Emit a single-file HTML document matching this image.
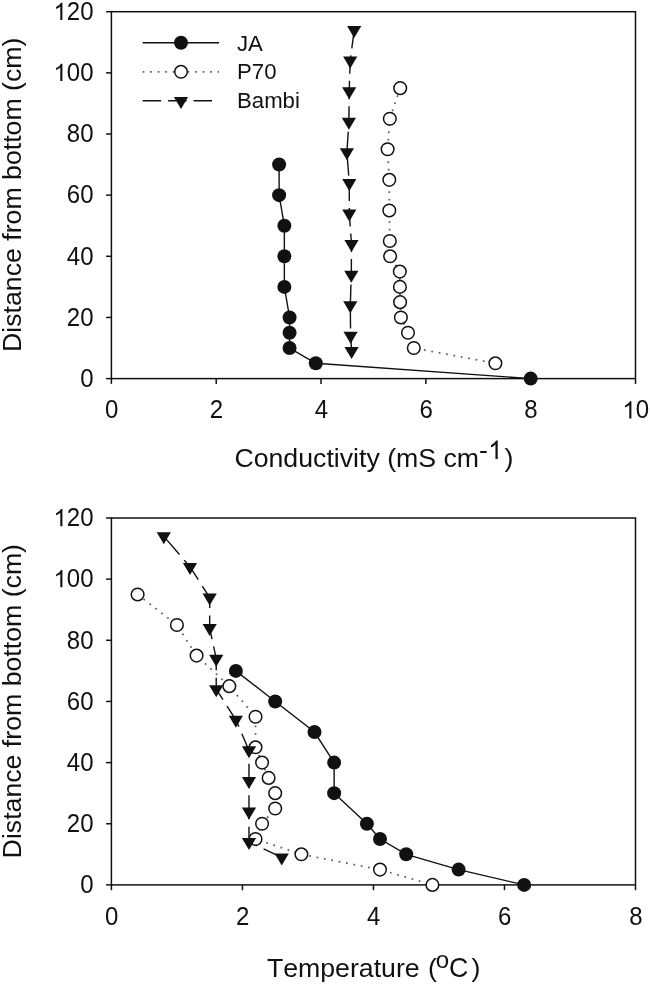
<!DOCTYPE html>
<html><head><meta charset="utf-8"><style>
html,body{margin:0;padding:0;background:#fff;}
body{width:650px;height:984px;overflow:hidden;}
svg{display:block;font-family:"Liberation Sans", sans-serif;font-kerning:none;will-change:transform;}
text{fill:#111;font-kerning:none;}
</style></head><body>
<svg width="650" height="984" viewBox="0 0 650 984">
<rect width="650" height="984" fill="#fff"/>
<rect x="111.4" y="11.7" width="524.1" height="366.9" fill="none" stroke="#111" stroke-width="1.5"/>
<line x1="106.1" y1="378.6" x2="111.4" y2="378.6" stroke="#111" stroke-width="1.5"/>
<text transform="translate(80.15,386.8) scale(1,1.04)" font-size="24">0</text>
<line x1="106.1" y1="317.45" x2="111.4" y2="317.45" stroke="#111" stroke-width="1.5"/>
<text transform="translate(66.8,325.65) scale(1,1.04)" font-size="24">20</text>
<line x1="106.1" y1="256.3" x2="111.4" y2="256.3" stroke="#111" stroke-width="1.5"/>
<text transform="translate(66.8,264.5) scale(1,1.04)" font-size="24">40</text>
<line x1="106.1" y1="195.15" x2="111.4" y2="195.15" stroke="#111" stroke-width="1.5"/>
<text transform="translate(66.8,203.35) scale(1,1.04)" font-size="24">60</text>
<line x1="106.1" y1="134" x2="111.4" y2="134" stroke="#111" stroke-width="1.5"/>
<text transform="translate(66.8,142.2) scale(1,1.04)" font-size="24">80</text>
<line x1="106.1" y1="72.85" x2="111.4" y2="72.85" stroke="#111" stroke-width="1.5"/>
<path transform="translate(53.46,81.05) scale(0.01172,-0.01172)" d="M763,0L583,0L583,1147C540,1106 480,1064 412,1024C343,985 280,954 223,932L223,1106C320,1152 405,1207 478,1272C551,1337 602,1404 632,1472L763,1472Z" fill="#111"/><text transform="translate(66.8,81.05) scale(1,1.04)" font-size="24">00</text>
<line x1="106.1" y1="11.7" x2="111.4" y2="11.7" stroke="#111" stroke-width="1.5"/>
<path transform="translate(53.46,19.9) scale(0.01172,-0.01172)" d="M763,0L583,0L583,1147C540,1106 480,1064 412,1024C343,985 280,954 223,932L223,1106C320,1152 405,1207 478,1272C551,1337 602,1404 632,1472L763,1472Z" fill="#111"/><text transform="translate(66.8,19.9) scale(1,1.04)" font-size="24">20</text>
<line x1="111.4" y1="378.6" x2="111.4" y2="383.9" stroke="#111" stroke-width="1.5"/>
<text transform="translate(105.03,418.4) scale(1,1.04)" font-size="24">0</text>
<line x1="216.22" y1="378.6" x2="216.22" y2="383.9" stroke="#111" stroke-width="1.5"/>
<text transform="translate(209.85,418.4) scale(1,1.04)" font-size="24">2</text>
<line x1="321.04" y1="378.6" x2="321.04" y2="383.9" stroke="#111" stroke-width="1.5"/>
<text transform="translate(314.67,418.4) scale(1,1.04)" font-size="24">4</text>
<line x1="425.86" y1="378.6" x2="425.86" y2="383.9" stroke="#111" stroke-width="1.5"/>
<text transform="translate(419.49,418.4) scale(1,1.04)" font-size="24">6</text>
<line x1="530.68" y1="378.6" x2="530.68" y2="383.9" stroke="#111" stroke-width="1.5"/>
<text transform="translate(524.31,418.4) scale(1,1.04)" font-size="24">8</text>
<line x1="635.5" y1="378.6" x2="635.5" y2="383.9" stroke="#111" stroke-width="1.5"/>
<path transform="translate(622.45,418.4) scale(0.01172,-0.01172)" d="M763,0L583,0L583,1147C540,1106 480,1064 412,1024C343,985 280,954 223,932L223,1106C320,1152 405,1207 478,1272C551,1337 602,1404 632,1472L763,1472Z" fill="#111"/><text transform="translate(635.8,418.4) scale(1,1.04)" font-size="24">0</text>
<polyline points="400.2,88.14 389.8,118.71 387.6,149.29 389.3,179.86 389.3,210.44 389.8,241.01 390.1,256.3 399.8,271.59 399.9,286.88 400.1,302.16 400.9,317.45 408,332.74 413.8,348.03 495.4,363.31" fill="none" stroke="#666" stroke-width="1.8" stroke-dasharray="1.8 5.7" stroke-linecap="butt"/>
<polyline points="354.2,30.04 350.2,60.62 349.2,91.19 348.9,121.77 346.9,152.34 349.3,182.92 349.3,213.5 351.5,244.07 351.3,274.65 350.3,305.22 350.6,335.8 351.6,351.08" fill="none" stroke="#111" stroke-width="1.4" stroke-dasharray="18.5 7"/>
<polyline points="279.11,164.57 279.11,195.15 284.35,225.73 284.35,256.3 284.35,286.88 289.59,317.45 289.59,332.74 289.59,348.03 315.8,363.31 530.68,378.6" fill="none" stroke="#111" stroke-width="1.4"/>
<circle cx="400.2" cy="88.14" r="6.3" fill="#fff" stroke="#111" stroke-width="1.5"/>
<circle cx="389.8" cy="118.71" r="6.3" fill="#fff" stroke="#111" stroke-width="1.5"/>
<circle cx="387.6" cy="149.29" r="6.3" fill="#fff" stroke="#111" stroke-width="1.5"/>
<circle cx="389.3" cy="179.86" r="6.3" fill="#fff" stroke="#111" stroke-width="1.5"/>
<circle cx="389.3" cy="210.44" r="6.3" fill="#fff" stroke="#111" stroke-width="1.5"/>
<circle cx="389.8" cy="241.01" r="6.3" fill="#fff" stroke="#111" stroke-width="1.5"/>
<circle cx="390.1" cy="256.3" r="6.3" fill="#fff" stroke="#111" stroke-width="1.5"/>
<circle cx="399.8" cy="271.59" r="6.3" fill="#fff" stroke="#111" stroke-width="1.5"/>
<circle cx="399.9" cy="286.88" r="6.3" fill="#fff" stroke="#111" stroke-width="1.5"/>
<circle cx="400.1" cy="302.16" r="6.3" fill="#fff" stroke="#111" stroke-width="1.5"/>
<circle cx="400.9" cy="317.45" r="6.3" fill="#fff" stroke="#111" stroke-width="1.5"/>
<circle cx="408" cy="332.74" r="6.3" fill="#fff" stroke="#111" stroke-width="1.5"/>
<circle cx="413.8" cy="348.03" r="6.3" fill="#fff" stroke="#111" stroke-width="1.5"/>
<circle cx="495.4" cy="363.31" r="6.3" fill="#fff" stroke="#111" stroke-width="1.5"/>
<path d="M347.1,26.04L361.3,26.04L354.2,38.04Z" fill="#111"/>
<path d="M343.1,56.62L357.3,56.62L350.2,68.62Z" fill="#111"/>
<path d="M342.1,87.19L356.3,87.19L349.2,99.19Z" fill="#111"/>
<path d="M341.8,117.77L356,117.77L348.9,129.77Z" fill="#111"/>
<path d="M339.8,148.34L354,148.34L346.9,160.34Z" fill="#111"/>
<path d="M342.2,178.92L356.4,178.92L349.3,190.92Z" fill="#111"/>
<path d="M342.2,209.5L356.4,209.5L349.3,221.5Z" fill="#111"/>
<path d="M344.4,240.07L358.6,240.07L351.5,252.07Z" fill="#111"/>
<path d="M344.2,270.65L358.4,270.65L351.3,282.65Z" fill="#111"/>
<path d="M343.2,301.22L357.4,301.22L350.3,313.22Z" fill="#111"/>
<path d="M343.5,331.8L357.7,331.8L350.6,343.8Z" fill="#111"/>
<path d="M344.5,347.08L358.7,347.08L351.6,359.08Z" fill="#111"/>
<circle cx="279.11" cy="164.57" r="7" fill="#111"/>
<circle cx="279.11" cy="195.15" r="7" fill="#111"/>
<circle cx="284.35" cy="225.73" r="7" fill="#111"/>
<circle cx="284.35" cy="256.3" r="7" fill="#111"/>
<circle cx="284.35" cy="286.88" r="7" fill="#111"/>
<circle cx="289.59" cy="317.45" r="7" fill="#111"/>
<circle cx="289.59" cy="332.74" r="7" fill="#111"/>
<circle cx="289.59" cy="348.03" r="7" fill="#111"/>
<circle cx="315.8" cy="363.31" r="7" fill="#111"/>
<circle cx="530.68" cy="378.6" r="7" fill="#111"/>
<text transform="translate(20.9,194.8) rotate(-90) scale(1,1.0)" text-anchor="middle" font-size="26.7">Distance from bottom (cm)</text>
<text transform="translate(234.4,467.3) scale(1,1.0)" font-size="26.7">Conductivity (mS cm</text><text transform="translate(479,458.6) scale(1,1.0)" font-size="26.7">-</text><path transform="translate(488.2,458.9) scale(0.01245,-0.01245)" d="M763,0L583,0L583,1147C540,1106 480,1064 412,1024C343,985 280,954 223,932L223,1106C320,1152 405,1207 478,1272C551,1337 602,1404 632,1472L763,1472Z" fill="#111"/><text transform="translate(504.6,467.3) scale(1,1.0)" font-size="26.7">)</text>
<rect x="111.4" y="518" width="524.1" height="366.9" fill="none" stroke="#111" stroke-width="1.5"/>
<line x1="106.1" y1="884.9" x2="111.4" y2="884.9" stroke="#111" stroke-width="1.5"/>
<text transform="translate(80.15,893.1) scale(1,1.04)" font-size="24">0</text>
<line x1="106.1" y1="823.75" x2="111.4" y2="823.75" stroke="#111" stroke-width="1.5"/>
<text transform="translate(66.8,831.95) scale(1,1.04)" font-size="24">20</text>
<line x1="106.1" y1="762.6" x2="111.4" y2="762.6" stroke="#111" stroke-width="1.5"/>
<text transform="translate(66.8,770.8) scale(1,1.04)" font-size="24">40</text>
<line x1="106.1" y1="701.45" x2="111.4" y2="701.45" stroke="#111" stroke-width="1.5"/>
<text transform="translate(66.8,709.65) scale(1,1.04)" font-size="24">60</text>
<line x1="106.1" y1="640.3" x2="111.4" y2="640.3" stroke="#111" stroke-width="1.5"/>
<text transform="translate(66.8,648.5) scale(1,1.04)" font-size="24">80</text>
<line x1="106.1" y1="579.15" x2="111.4" y2="579.15" stroke="#111" stroke-width="1.5"/>
<path transform="translate(53.46,587.35) scale(0.01172,-0.01172)" d="M763,0L583,0L583,1147C540,1106 480,1064 412,1024C343,985 280,954 223,932L223,1106C320,1152 405,1207 478,1272C551,1337 602,1404 632,1472L763,1472Z" fill="#111"/><text transform="translate(66.8,587.35) scale(1,1.04)" font-size="24">00</text>
<line x1="106.1" y1="518" x2="111.4" y2="518" stroke="#111" stroke-width="1.5"/>
<path transform="translate(53.46,526.2) scale(0.01172,-0.01172)" d="M763,0L583,0L583,1147C540,1106 480,1064 412,1024C343,985 280,954 223,932L223,1106C320,1152 405,1207 478,1272C551,1337 602,1404 632,1472L763,1472Z" fill="#111"/><text transform="translate(66.8,526.2) scale(1,1.04)" font-size="24">20</text>
<line x1="111.4" y1="884.9" x2="111.4" y2="890.2" stroke="#111" stroke-width="1.5"/>
<text transform="translate(105.03,924.7) scale(1,1.04)" font-size="24">0</text>
<line x1="242.43" y1="884.9" x2="242.43" y2="890.2" stroke="#111" stroke-width="1.5"/>
<text transform="translate(236.05,924.7) scale(1,1.04)" font-size="24">2</text>
<line x1="373.45" y1="884.9" x2="373.45" y2="890.2" stroke="#111" stroke-width="1.5"/>
<text transform="translate(367.08,924.7) scale(1,1.04)" font-size="24">4</text>
<line x1="504.48" y1="884.9" x2="504.48" y2="890.2" stroke="#111" stroke-width="1.5"/>
<text transform="translate(498.1,924.7) scale(1,1.04)" font-size="24">6</text>
<line x1="635.5" y1="884.9" x2="635.5" y2="890.2" stroke="#111" stroke-width="1.5"/>
<text transform="translate(629.13,924.7) scale(1,1.04)" font-size="24">8</text>
<polyline points="137.61,594.44 176.91,625.01 196.57,655.59 229.32,686.16 255.53,716.74 255.53,747.31 262.08,762.6 268.63,777.89 275.18,793.17 275.18,808.46 262.08,823.75 255.53,839.04 301.39,854.32 380,869.61 432.41,884.9" fill="none" stroke="#666" stroke-width="1.8" stroke-dasharray="1.8 5.7" stroke-linecap="butt"/>
<polyline points="163.81,536.35 190.01,566.92 209.67,597.5 209.67,628.07 216.22,658.64 216.22,689.22 235.87,719.79 248.98,750.37 248.98,780.94 248.98,811.52 248.98,842.1 281.73,857.38" fill="none" stroke="#111" stroke-width="1.4" stroke-dasharray="24 7.5"/>
<polyline points="235.87,670.88 275.18,701.45 314.49,732.02 334.14,762.6 334.14,793.17 366.9,823.75 380,839.04 406.21,854.32 458.62,869.61 524.13,884.9" fill="none" stroke="#111" stroke-width="1.4"/>
<circle cx="137.61" cy="594.44" r="6.3" fill="#fff" stroke="#111" stroke-width="1.5"/>
<circle cx="176.91" cy="625.01" r="6.3" fill="#fff" stroke="#111" stroke-width="1.5"/>
<circle cx="196.57" cy="655.59" r="6.3" fill="#fff" stroke="#111" stroke-width="1.5"/>
<circle cx="229.32" cy="686.16" r="6.3" fill="#fff" stroke="#111" stroke-width="1.5"/>
<circle cx="255.53" cy="716.74" r="6.3" fill="#fff" stroke="#111" stroke-width="1.5"/>
<circle cx="255.53" cy="747.31" r="6.3" fill="#fff" stroke="#111" stroke-width="1.5"/>
<circle cx="262.08" cy="762.6" r="6.3" fill="#fff" stroke="#111" stroke-width="1.5"/>
<circle cx="268.63" cy="777.89" r="6.3" fill="#fff" stroke="#111" stroke-width="1.5"/>
<circle cx="275.18" cy="793.17" r="6.3" fill="#fff" stroke="#111" stroke-width="1.5"/>
<circle cx="275.18" cy="808.46" r="6.3" fill="#fff" stroke="#111" stroke-width="1.5"/>
<circle cx="262.08" cy="823.75" r="6.3" fill="#fff" stroke="#111" stroke-width="1.5"/>
<circle cx="255.53" cy="839.04" r="6.3" fill="#fff" stroke="#111" stroke-width="1.5"/>
<circle cx="301.39" cy="854.32" r="6.3" fill="#fff" stroke="#111" stroke-width="1.5"/>
<circle cx="380" cy="869.61" r="6.3" fill="#fff" stroke="#111" stroke-width="1.5"/>
<circle cx="432.41" cy="884.9" r="6.3" fill="#fff" stroke="#111" stroke-width="1.5"/>
<path d="M156.71,532.35L170.91,532.35L163.81,544.35Z" fill="#111"/>
<path d="M182.91,562.92L197.11,562.92L190.01,574.92Z" fill="#111"/>
<path d="M202.57,593.5L216.77,593.5L209.67,605.5Z" fill="#111"/>
<path d="M202.57,624.07L216.77,624.07L209.67,636.07Z" fill="#111"/>
<path d="M209.12,654.64L223.32,654.64L216.22,666.64Z" fill="#111"/>
<path d="M209.12,685.22L223.32,685.22L216.22,697.22Z" fill="#111"/>
<path d="M228.77,715.79L242.97,715.79L235.87,727.79Z" fill="#111"/>
<path d="M241.88,746.37L256.08,746.37L248.98,758.37Z" fill="#111"/>
<path d="M241.88,776.94L256.08,776.94L248.98,788.94Z" fill="#111"/>
<path d="M241.88,807.52L256.08,807.52L248.98,819.52Z" fill="#111"/>
<path d="M241.88,838.1L256.08,838.1L248.98,850.1Z" fill="#111"/>
<path d="M274.63,853.38L288.83,853.38L281.73,865.38Z" fill="#111"/>
<circle cx="235.87" cy="670.88" r="7" fill="#111"/>
<circle cx="275.18" cy="701.45" r="7" fill="#111"/>
<circle cx="314.49" cy="732.02" r="7" fill="#111"/>
<circle cx="334.14" cy="762.6" r="7" fill="#111"/>
<circle cx="334.14" cy="793.17" r="7" fill="#111"/>
<circle cx="366.9" cy="823.75" r="7" fill="#111"/>
<circle cx="380" cy="839.04" r="7" fill="#111"/>
<circle cx="406.21" cy="854.32" r="7" fill="#111"/>
<circle cx="458.62" cy="869.61" r="7" fill="#111"/>
<circle cx="524.13" cy="884.9" r="7" fill="#111"/>
<text transform="translate(20.9,701.2) rotate(-90) scale(1,1.0)" text-anchor="middle" font-size="26.7">Distance from bottom (cm)</text>
<text transform="translate(266.9,976.9) scale(1,1.0)" font-size="26.7">Temperature</text><text transform="translate(428,976.9) scale(1,1.0)" font-size="26.7">(</text><text transform="translate(435.8,968.2) scale(1,1.0)" font-size="24">o</text><text transform="translate(448.9,976.9) scale(1,1.04)" font-size="26.7">C</text><text transform="translate(471.5,976.9) scale(1,1.0)" font-size="26.7">)</text>
<line x1="142.6" y1="42.7" x2="219" y2="42.7" stroke="#111" stroke-width="1.4"/>
<circle cx="181" cy="42.7" r="7" fill="#111"/>
<line x1="142.6" y1="71.8" x2="219" y2="71.8" stroke="#666" stroke-width="1.8" stroke-dasharray="1.8 5.7"/>
<circle cx="181" cy="71.8" r="6.3" fill="#fff" stroke="#111" stroke-width="1.5"/>
<line x1="142.6" y1="100.8" x2="219" y2="100.8" stroke="#111" stroke-width="1.4" stroke-dasharray="18.5 7"/>
<path d="M173.9,97.1L188.1,97.1L181,109.1Z" fill="#111"/>
<text transform="translate(237,50.6) scale(1,1.02)" font-size="22.2">JA</text>
<text transform="translate(237,79.4) scale(1,1.02)" font-size="22.2">P70</text>
<text transform="translate(237,107.7) scale(1,1.02)" font-size="22.2">Bambi</text>
</svg>
</body></html>
